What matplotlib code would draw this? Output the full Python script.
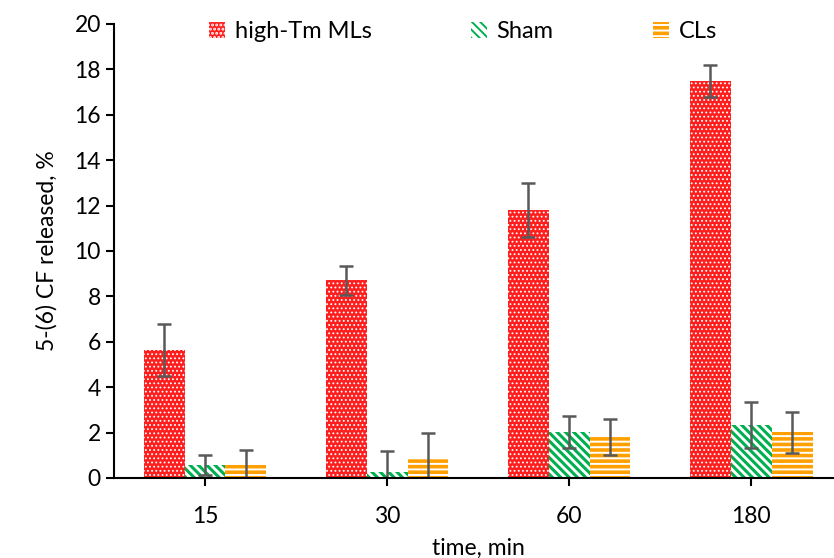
import numpy as np
import matplotlib.pyplot as plt

plt.rcParams['font.family'] = ['Lato', 'DejaVu Sans']

times = ['15', '30', '60', '180']
series = ['high-Tm MLs', 'Sham', 'CLs']
high_tm = [5.65, 8.7, 11.8, 17.5]
high_tm_err = [1.15, 0.65, 1.2, 0.7]
sham = [0.57, 0.25, 2.02, 2.33]
sham_err = [0.45, 0.95, 0.7, 1.0]
cls = [0.55, 0.9, 1.8, 2.02]
cls_err = [0.67, 1.1, 0.8, 0.9]

fig = plt.figure(figsize=(8.34, 5.58), dpi=100)
ax = fig.add_axes([0.1367, 0.1434, 0.873, 0.8136])

x = np.arange(len(times))
w = 0.225
styles = [
    dict(facecolor='#FF1E1E', edgecolor='white', hatch='....'),
    dict(facecolor='white', edgecolor='#00B050', hatch='\\\\\\\\'),
    dict(facecolor='#FFA000', edgecolor='white', hatch='---'),
]
hatch_lw = [0.8, 2.2, 1.4]
data = [(high_tm, high_tm_err), (sham, sham_err), (cls, cls_err)]
for i, (vals, errs) in enumerate(data):
    plt.rcParams['hatch.linewidth'] = hatch_lw[i]
    bars = ax.bar(x + (i - 1) * w, vals, w, yerr=errs, label=series[i], linewidth=0,
                  error_kw=dict(ecolor='#595959', elinewidth=1.8, capsize=5, capthick=1.8),
                  **styles[i])
    for b in bars.patches:
        if hasattr(b, 'set_hatch_linewidth'):
            b.set_hatch_linewidth(hatch_lw[i])

ax.set_xlim(-0.5, 3.5)
ax.set_ylim(0, 20)
ax.set_yticks(np.arange(0, 21, 2))
ax.set_xticks(x)
ax.set_xticklabels(times)
ax.spines['top'].set_visible(False)
ax.spines['right'].set_visible(False)
ax.spines['left'].set_linewidth(1.5)
ax.spines['bottom'].set_linewidth(1.5)
ax.tick_params(axis='both', labelsize=16.5, width=1.5, length=6, direction='out')
ax.tick_params(axis='x', pad=14)
ax.set_ylabel('5-(6) CF released, %', fontsize=16.5, labelpad=12)
ax.set_xlabel('time, min', fontsize=16.5, labelpad=8)

leg = fig.legend(loc='upper center', bbox_to_anchor=(0.555, 1.0), ncol=3, frameon=False,
                 fontsize=17, columnspacing=4.2, handlelength=0.7, handleheight=0.7,
                 handletextpad=0.4)

fig.savefig('out.png', dpi=100)
